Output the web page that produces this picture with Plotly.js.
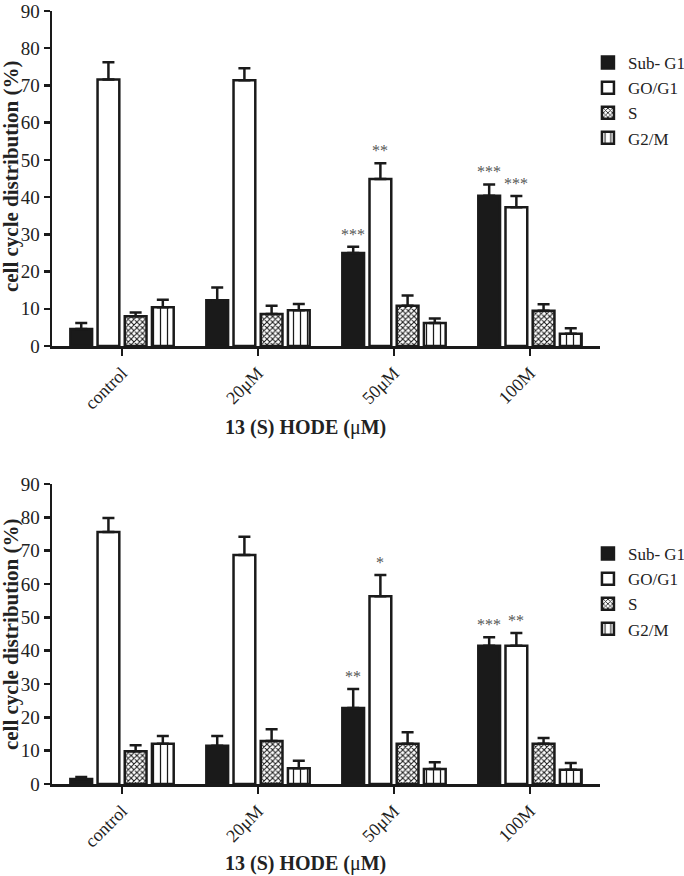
<!DOCTYPE html>
<html>
<head>
<meta charset="utf-8">
<script src="https://cdn.plot.ly/plotly-3.0.1.min.js"></script>
<style>html,body{margin:0;padding:0;background:#fff;}#chart{width:684px;height:876px;}</style>
</head>
<body>
<div id="chart"></div>
<script>
// ---- data ----
const categories = ["control", "20\u03bcM", "50\u03bcM", "100M"];
const seriesNames = ["Sub- G1", "GO/G1", "S", "G2/M"];

// top chart
const subG1Top = [4.6, 12.3, 25.0, 40.4];
const subG1TopErr = [1.6, 3.4, 1.7, 3.0];
const g0g1Top = [71.6, 71.4, 44.9, 37.3];
const g0g1TopErr = [4.6, 3.2, 4.2, 3.0];
const sTop = [8.0, 8.6, 10.8, 9.5];
const sTopErr = [1.0, 2.2, 2.8, 1.7];
const g2mTop = [10.4, 9.6, 6.2, 3.3];
const g2mTopErr = [2.0, 1.7, 1.2, 1.5];
const sigSubG1Top = ["", "", "***", "***"];
const sigG0G1Top = ["", "", "**", "***"];

// bottom chart
const subG1Bot = [1.5, 11.5, 22.8, 41.5];
const subG1BotErr = [0.6, 2.9, 5.7, 2.5];
const g0g1Bot = [75.6, 68.7, 56.3, 41.5];
const g0g1BotErr = [4.2, 5.5, 6.4, 3.8];
const sBot = [9.8, 12.9, 12.1, 12.1];
const sBotErr = [1.8, 3.5, 3.4, 1.7];
const g2mBot = [12.1, 4.7, 4.5, 4.3];
const g2mBotErr = [2.3, 2.3, 2.0, 2.0];
const sigSubG1Bot = ["", "", "**", "***"];
const sigG0G1Bot = ["", "", "*", "**"];

const yTicks = [0, 10, 20, 30, 40, 50, 60, 70, 80, 90];
const xTitle = "<b>13 (S) HODE (</b>\u03bc<b>M)</b>";
const yTitle = "<b>cell cycle distribution (%)</b>";

// ---- styles ----
const INK = "#1a1a1a";
const FONT = "Liberation Serif";
const styles = [
  {color: INK, pattern: {shape: ""}},
  {color: "#ffffff", pattern: {shape: ""}},
  {color: "#ffffff", pattern: {shape: "x", size: 4, solidity: 0.45, fgcolor: INK, bgcolor: "#ffffff", fillmode: "replace"}},
  {color: "#ffffff", pattern: {shape: "|", size: 7, solidity: 0.18, fgcolor: INK, bgcolor: "#ffffff", fillmode: "replace"}}
];

function makeTraces(vals, errs, xa, ya, leg) {
  return vals.map((v, i) => ({
    type: "bar",
    name: seriesNames[i],
    x: categories,
    y: v,
    xaxis: xa, yaxis: ya,
    legend: leg,
    marker: {
      color: styles[i].color,
      pattern: styles[i].pattern,
      line: {color: INK, width: 2.5}
    },
    error_y: {
      type: "data", symmetric: false,
      array: errs[i], arrayminus: errs[i].map(() => 0),
      color: INK, thickness: 2.5, width: 6
    },
    hoverinfo: "skip"
  }));
}

const traces = [].concat(
  makeTraces([subG1Top, g0g1Top, sTop, g2mTop], [subG1TopErr, g0g1TopErr, sTopErr, g2mTopErr], "x", "y", "legend"),
  makeTraces([subG1Bot, g0g1Bot, sBot, g2mBot], [subG1BotErr, g0g1BotErr, sBotErr, g2mBotErr], "x2", "y2", "legend2")
);

// significance stars, placed over the bars through the axis scales
const nSeries = 4, groupWidth = 0.8, slot = groupWidth / nSeries;
function starAnn(sig, vals, errs, seriesIdx, xref, yref) {
  const out = [];
  sig.forEach((t, k) => {
    if (!t) return;
    out.push({
      xref: xref, yref: yref,
      x: k - groupWidth / 2 + slot * (seriesIdx + 0.5),
      y: vals[k] + errs[k],
      text: t, showarrow: false, xanchor: "center", yanchor: "bottom", yshift: 2,
      font: {family: FONT, size: 16, color: "#555555"}
    });
  });
  return out;
}

const axisX = {
  type: "category", range: [-0.515, 3.515],
  showline: true, linecolor: INK, linewidth: 2.5,
  ticks: "outside", tickwidth: 2.5, ticklen: 7, tickcolor: INK,
  tickangle: -45, tickfont: {family: FONT, size: 18, color: "#222"},
  showgrid: false, zeroline: false, fixedrange: true
};
const axisY = {
  range: [0, 90], tickmode: "array", tickvals: yTicks,
  showline: true, linecolor: INK, linewidth: 2.5,
  ticks: "outside", tickwidth: 2.5, ticklen: 6, tickcolor: INK,
  tickfont: {family: FONT, size: 19, color: "#222"},
  showgrid: false, zeroline: false, fixedrange: true
};

const titleAnn = (x, y, text, size, angle) => ({
  xref: "paper", yref: "paper", x: x, y: y, text: text, showarrow: false,
  xanchor: "center", yanchor: "middle", textangle: angle || 0,
  font: {family: FONT, size: size, color: "#222"}
});

const annotations = [].concat(
  starAnn(sigSubG1Top, subG1Top, subG1TopErr, 0, "x", "y"),
  starAnn(sigG0G1Top, g0g1Top, g0g1TopErr, 1, "x", "y"),
  starAnn(sigSubG1Bot, subG1Bot, subG1BotErr, 0, "x2", "y2"),
  starAnn(sigG0G1Bot, g0g1Bot, g0g1BotErr, 1, "x2", "y2"),
  [
    titleAnn(0.4635, 0.4618, xTitle, 20),
    titleAnn(0.4635, -0.1022, xTitle, 20),
    titleAnn(-0.0748, 0.7865, yTitle, 21, -90),
    titleAnn(-0.0748, 0.194, yTitle, 21, -90)
  ]
);

const legendStyle = {
  font: {family: FONT, size: 17, color: "#222"},
  bgcolor: "rgba(0,0,0,0)", borderwidth: 0,
  xanchor: "left", yanchor: "top", traceorder: "normal"
};

const layout = {
  width: 684, height: 876,
  margin: {l: 52, r: 84, t: 11, b: 92, autoexpand: false},
  paper_bgcolor: "#fff", plot_bgcolor: "#fff",
  barmode: "group", bargap: 0.2, bargroupgap: 0.2,
  showlegend: true,
  xaxis: Object.assign({}, axisX, {anchor: "y", domain: [0, 1]}),
  yaxis: Object.assign({}, axisY, {anchor: "x", domain: [0.5666, 1]}),
  xaxis2: Object.assign({}, axisX, {anchor: "y2", domain: [0, 1]}),
  yaxis2: Object.assign({}, axisY, {anchor: "x2", domain: [0, 0.3881]}),
  legend: Object.assign({}, legendStyle, {x: 0.978, y: 0.956}),
  legend2: Object.assign({}, legendStyle, {x: 0.978, y: 0.3208}),
  annotations: annotations
};

Plotly.newPlot("chart", traces, layout, {staticPlot: true, displayModeBar: false});
</script>
</body>
</html>
